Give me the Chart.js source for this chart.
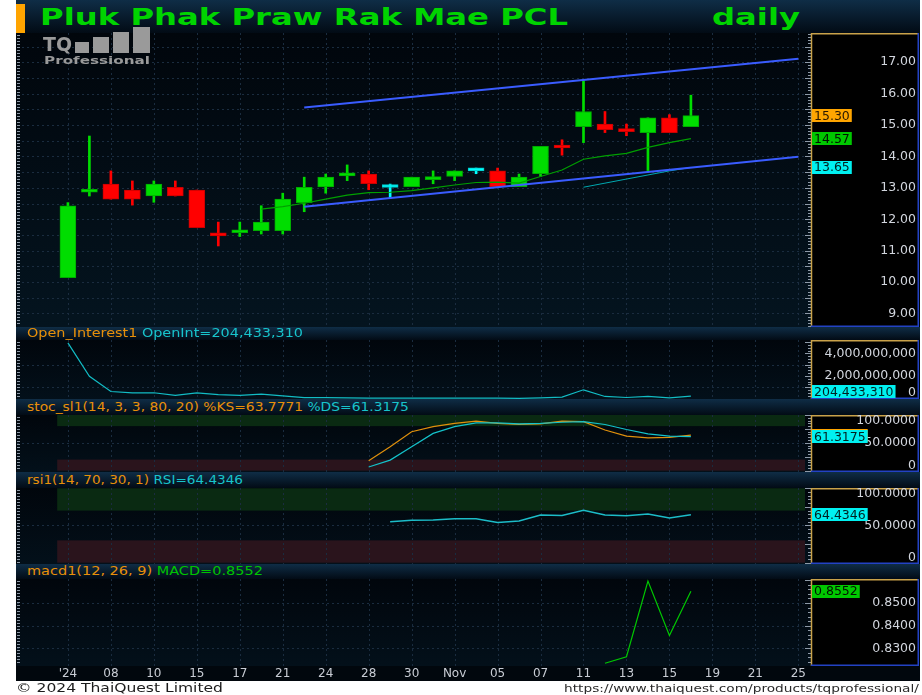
<!DOCTYPE html>
<html>
<head>
<meta charset="utf-8">
<script src="https://cdn.jsdelivr.net/npm/chart.js@4.4.0/dist/chart.umd.min.js"></script>
<style>
html, body { margin: 0; padding: 0; background: #fff; }
#wrap { position: relative; width: 922px; height: 695px; overflow: hidden; background: #fff; font-family: "DejaVu Sans", sans-serif; }
.dark { position: absolute; left: 16px; top: 0; width: 904px; height: 681px; background: #01070d; }
.bar { position: absolute; left: 16px; width: 904px; background: linear-gradient(#0f2d46, #020b15); }
.txt { position: absolute; white-space: nowrap; display: inline-block; transform-origin: left center; z-index: 5; }
.hdr { font-size: 11.5px; left: 27px; }
canvas { position: absolute; left: 0; }
.logo { position: absolute; background: #9a9a9a; z-index: 5; }
</style>
</head>
<body>
<div id="wrap">
  <div class="dark"></div>
  <div class="bar" style="top:0;height:33px;"></div>
  <div style="position:absolute;left:16px;top:4px;width:9px;height:29px;background:#ffa400;"></div>
  <div id="title" class="txt" style="left:40px;top:3px;font-size:23px;line-height:28px;font-weight:bold;color:#00d400;">Pluk Phak Praw Rak Mae PCL</div>
  <div id="daily" class="txt" style="left:712px;top:3px;font-size:23px;line-height:28px;font-weight:bold;color:#00d400;">daily</div>

  <canvas id="cPrice" width="922" height="294" style="top:33px;"></canvas>

  <div id="tq" class="txt" style="left:43px;top:33px;font-size:20px;line-height:22px;font-weight:bold;color:#9a9a9a;">TQ</div>
  <div class="logo" style="left:75px;top:42px;width:14px;height:11px;"></div>
  <div class="logo" style="left:93px;top:37px;width:16px;height:16px;"></div>
  <div class="logo" style="left:113px;top:32px;width:16px;height:21px;"></div>
  <div class="logo" style="left:133px;top:27px;width:17px;height:26px;"></div>
  <div id="prof" class="txt" style="left:44px;top:54px;font-size:11px;line-height:13px;font-weight:bold;color:#9a9a9a;">Professional</div>

  <div class="bar" style="top:327px;height:13px;"></div>
  <div id="hOI" class="txt hdr" style="top:327px;line-height:13px;"></div>
  <canvas id="cOI" width="922" height="59" style="top:340px;"></canvas>

  <div class="bar" style="top:399px;height:16px;"></div>
  <div id="hStoch" class="txt hdr" style="top:399px;line-height:16px;"></div>
  <canvas id="cStoch" width="922" height="57" style="top:415px;"></canvas>

  <div class="bar" style="top:472px;height:16px;"></div>
  <div id="hRsi" class="txt hdr" style="top:472px;line-height:16px;"></div>
  <canvas id="cRsi" width="922" height="76" style="top:488px;"></canvas>

  <div class="bar" style="top:564px;height:15px;"></div>
  <div id="hMacd" class="txt hdr" style="top:564px;line-height:15px;"></div>
  <canvas id="cMacd" width="922" height="102" style="top:579px;"></canvas>

  <div id="copy" class="txt" style="left:16px;top:681px;font-size:13px;line-height:14px;color:#1c1c1c;">© 2024 ThaiQuest Limited</div>
  <div id="url" class="txt" style="left:564px;top:682px;font-size:11px;line-height:13px;color:#2a2a2a;">https://www.thaiquest.com/products/tqprofessional/</div>
</div>

<script>
// Подписи оси X (каждая вторая свеча)
const xLabels = ["'24", '08', '10', '15', '17', '21', '24', '28', '30', 'Nov', '05', '07', '11', '13', '15', '19', '21', '25'];

// Свечи
const open  = [10.14, 12.86, 13.12, 12.93, 12.74, 13.02, 12.93, 11.50, 11.57, 11.64, 11.64, 12.53, 13.03, 13.38, 13.44, 13.01, 13.04, 13.26, 13.36, 13.54, 13.54, 13.04, 13.45, 14.31, 14.95, 15.03, 14.83, 14.76, 15.23, 14.95];
const high  = [12.53, 14.65, 13.54, 13.22, 13.22, 13.22, 12.93, 11.91, 11.91, 12.43, 12.83, 13.34, 13.44, 13.73, 13.54, 13.12, 13.34, 13.54, 13.54, 13.63, 13.63, 13.44, 14.32, 14.53, 16.41, 15.43, 15.03, 15.23, 15.33, 15.95];
const low   = [10.14, 12.74, 12.64, 12.45, 12.54, 12.74, 11.73, 11.15, 11.45, 11.53, 11.53, 12.24, 12.83, 13.23, 12.94, 12.67, 13.04, 13.13, 13.23, 13.45, 13.04, 13.04, 13.36, 14.04, 14.44, 14.76, 14.66, 13.55, 14.76, 14.95];
const close = [12.43, 12.90, 12.64, 12.64, 13.12, 12.74, 11.73, 11.47, 11.61, 11.91, 12.64, 13.02, 13.34, 13.42, 13.13, 13.01, 13.34, 13.30, 13.54, 13.54, 13.04, 13.34, 14.32, 14.27, 15.43, 14.85, 14.79, 15.23, 14.76, 15.30];

// Скользящие средние
const maFastStart = 9;
const maFast = [12.32, 12.40, 12.51, 12.64, 12.77, 12.85, 12.86, 12.91, 13.00, 13.09, 13.17, 13.18, 13.15, 13.36, 13.57, 13.91, 14.02, 14.10, 14.29, 14.44, 14.57];
const maSlowStart = 24;
const maSlow = [13.02, 13.15, 13.28, 13.41, 13.54, 13.65];

// Канал тренда: [индекс, цена]
const channelUpper = [[11, 15.56], [34, 17.11]];
const channelLower = [[11, 12.40], [34, 13.99]];

// Индикаторы
const openInt = [4930000000, 1970000000, 620000000, 500000000, 510000000, 270000000, 500000000, 350000000, 270000000, 380000000, 240000000, 70000000, 70000000, 60000000, 30000000, 30000000, 30000000, 30000000, 30000000, 30000000, 30000000, 20000000, 60000000, 120000000, 770000000, 180000000, 90000000, 190000000, 60000000, 204433310];
const stochStart = 14;
const stochK = [18, 43, 70, 79, 85, 89, 85, 83, 84, 89, 88, 73, 62, 59, 60, 63.7771];
const stochD = [6.6, 19, 43, 67, 79, 86, 86, 84, 85, 87, 88, 83, 74, 66, 62, 61.3175];
const rsiStart = 15;
const rsi = [55, 57, 57.5, 59, 59, 54, 56, 64, 63.5, 70.5, 64, 63, 65.5, 60, 64.4346];
const macdStart = 25;
const macd = [0.8234, 0.8263, 0.8597, 0.8357, 0.8552];

// Деления осей Y
const priceTicks = [9, 10, 11, 12, 13, 14, 15, 16, 17];
const oiTicks = [0, 2000000000, 4000000000];
const pctTicks = [0, 50, 100];
const macdTicks = [0.83, 0.84, 0.85];

const X_MIN = -2.37, X_MAX = 34.59;
const AXIS_END = 919;
const FONT = '"DejaVu Sans", sans-serif';

const fromStart = (arr, start) => arr.map((v, k) => ({ x: start + k, y: v }));
const lineSet = (data, color, width) => ({
    type: 'line', data, borderColor: color, borderWidth: width,
    pointRadius: 0, tension: 0, order: 0
});

// Оформление панели: фон, зоны, сетка, линейки, подписи, ярлыки
function panelDeco(cfg) {
    return {
        id: 'panelDeco',
        beforeDraw(chart) {
            const { ctx, chartArea: a, scales: { x, y } } = chart;
            ctx.save();
            const g = ctx.createLinearGradient(0, a.top, 0, a.bottom);
            g.addColorStop(0, cfg.bg[0]);
            g.addColorStop(1, cfg.bg[1]);
            ctx.fillStyle = g;
            ctx.fillRect(a.left, a.top, a.right - a.left, a.bottom - a.top);
            ctx.fillStyle = '#000';
            ctx.fillRect(a.right, a.top, AXIS_END - a.right, a.bottom - a.top);

            (cfg.zones || []).forEach(z => {
                const yTop = y.getPixelForValue(z[1]);
                const yBot = y.getPixelForValue(z[0]);
                const xl = x.getPixelForValue(-0.5);
                ctx.fillStyle = z[2];
                ctx.fillRect(xl, yTop, a.right - 6 - xl, yBot - yTop);
            });

            ctx.strokeStyle = '#1a2c3f';
            ctx.lineWidth = 1;
            ctx.setLineDash([2, 3]);
            ctx.beginPath();
            xLabels.forEach((_, i) => {
                const px = Math.round(x.getPixelForValue(i * 2)) + 0.5;
                ctx.moveTo(px, a.top);
                ctx.lineTo(px, a.bottom);
            });
            cfg.grid.forEach(v => {
                const py = Math.round(y.getPixelForValue(v)) + 0.5;
                ctx.moveTo(a.left, py);
                ctx.lineTo(a.right, py);
            });
            ctx.stroke();
            ctx.restore();
        },
        afterDraw(chart) {
            const { ctx, chartArea: a, scales: { y } } = chart;
            ctx.save();

            // линейки слева и справа
            ctx.strokeStyle = '#8e9aa8';
            ctx.lineWidth = 1;
            ctx.beginPath();
            for (let py = a.top + 2; py < a.bottom - 1; py += 3) {
                ctx.moveTo(a.left, py + 0.5);
                ctx.lineTo(a.left + 3, py + 0.5);
            }
            const lo = y.min, hi = y.max;
            for (let v = Math.ceil(lo / cfg.minor) * cfg.minor; v <= hi; v += cfg.minor) {
                const py = Math.round(y.getPixelForValue(v)) + 0.5;
                const major = Math.abs(v / cfg.major - Math.round(v / cfg.major)) < 1e-6;
                ctx.moveTo(a.right - (major ? 6 : 3), py);
                ctx.lineTo(a.right, py);
            }
            ctx.stroke();

            // рамка блока оси
            ctx.lineWidth = 1.5;
            ctx.strokeStyle = '#c9a24a';
            ctx.beginPath();
            ctx.moveTo(a.right + 0.5, a.bottom);
            ctx.lineTo(a.right + 0.5, a.top + 0.75);
            ctx.lineTo(AXIS_END, a.top + 0.75);
            ctx.stroke();
            ctx.strokeStyle = '#2342c4';
            ctx.beginPath();
            ctx.moveTo(AXIS_END - 0.75, a.top);
            ctx.lineTo(AXIS_END - 0.75, a.bottom - 0.75);
            ctx.lineTo(a.right, a.bottom - 0.75);
            ctx.stroke();

            // подписи делений
            ctx.font = '12.5px ' + FONT;
            ctx.fillStyle = '#d2d6de';
            ctx.textAlign = 'right';
            ctx.textBaseline = 'middle';
            cfg.ticks.forEach((v, k) => {
                let py = y.getPixelForValue(v);
                py = Math.min(Math.max(py, a.top + 6), a.bottom - 6);
                ctx.fillText(cfg.tickText[k], 916, py);
            });

            // ярлыки последних значений
            ctx.textAlign = 'left';
            cfg.tags.forEach(t => {
                const h = 13;
                const w = ctx.measureText(t.text).width + 4;
                let py = y.getPixelForValue(t.value);
                py = Math.min(Math.max(py, a.top + h / 2 + 1), a.bottom - h / 2 - 1);
                ctx.fillStyle = t.bg;
                ctx.fillRect(a.right + 1, Math.round(py - h / 2), w, h);
                ctx.fillStyle = t.fg;
                ctx.fillText(t.text, a.right + 3, Math.round(py) + 0.5);
            });
            ctx.restore();
        }
    };
}

function xScale(show) {
    return {
        type: 'linear', min: X_MIN, max: X_MAX, bounds: 'data', offset: false, display: show,
        grid: { display: false, drawTicks: false, offset: false }, border: { display: false },
        afterBuildTicks: s => { s.ticks = xLabels.map((t, i) => ({ value: i * 2 })); },
        afterFit: s => { s.height = show ? 15 : 0; },
        ticks: {
            autoSkip: false, maxRotation: 0, padding: 1, color: '#c8ccd4',
            font: { family: FONT, size: 12 },
            callback: v => xLabels[v / 2] || ''
        }
    };
}

function yScale(min, max) {
    return {
        type: 'linear', position: 'right', min, max, bounds: 'data',
        grid: { display: false, drawTicks: false }, border: { display: false },
        ticks: { display: false },
        afterFit: s => { s.width = 109; s.paddingTop = 0; s.paddingBottom = 0; }
    };
}

function makeChart(id, datasets, yMin, yMax, deco, showX) {
    return new Chart(document.getElementById(id), {
        type: 'line',
        data: { datasets },
        options: {
            responsive: false,
            animation: false,
            events: [],
            layout: { padding: { left: 17, right: 2, top: 0, bottom: 0 } },
            plugins: { legend: { display: false }, tooltip: { enabled: false } },
            scales: { x: xScale(showX), y: yScale(yMin, yMax) }
        },
        plugins: [panelDeco(deco)]
    });
}

// Цвета свечей
const UP = '#00dd00', DOWN = '#ff0000', FLAT = '#00ffff';
const candleColor = close.map((c, i) => c > open[i] ? UP : c < open[i] ? DOWN : FLAT);
const candleEdge = close.map((c, i) => c > open[i] ? '#00aa00' : c < open[i] ? '#c80000' : '#00c8c8');
const last = arr => arr[arr.length - 1];

// Цена
makeChart('cPrice', [
    lineSet(channelUpper.map(p => ({ x: p[0], y: p[1] })), '#3a5cff', 2),
    lineSet(channelLower.map(p => ({ x: p[0], y: p[1] })), '#3a5cff', 2),
    lineSet(fromStart(maFast, maFastStart), '#00a000', 1.2),
    lineSet(fromStart(maSlow, maSlowStart), '#00a8b0', 1),
    {
        type: 'bar', data: close.map((c, i) => ({ x: i, y: [open[i], c] })),
        backgroundColor: candleColor, borderColor: candleEdge, borderWidth: 1, borderSkipped: false,
        barThickness: 16, minBarLength: 3, grouped: false, order: 1
    },
    {
        type: 'bar', data: close.map((c, i) => ({ x: i, y: [low[i], high[i]] })),
        backgroundColor: candleColor, barThickness: 2, grouped: false, order: 2
    }
], 8.57, 17.93, {
    bg: ['#01060c', '#04141f'],
    grid: [9, 9.5, 10, 10.5, 11, 11.5, 12, 12.5, 13, 13.5, 14, 14.5, 15, 15.5, 16, 16.5, 17, 17.5],
    minor: 0.1, major: 0.5,
    ticks: priceTicks, tickText: priceTicks.map(v => v.toFixed(2)),
    tags: [
        { value: last(close), text: last(close).toFixed(2), bg: '#ffa500', fg: '#2a1800' },
        { value: last(maFast), text: last(maFast).toFixed(2), bg: '#00c800', fg: '#001400' },
        { value: last(maSlow), text: last(maSlow).toFixed(2), bg: '#00f0f0', fg: '#002020' }
    ]
}, false);

// Open Interest
makeChart('cOI', [
    lineSet(fromStart(openInt, 0), '#12bcc4', 1.2)
], -44000000, 5180000000, {
    bg: ['#01060c', '#03101a'],
    grid: [1000000000, 3000000000],
    minor: 250000000, major: 1000000000,
    ticks: oiTicks, tickText: oiTicks.map(v => v.toLocaleString('en-US')),
    tags: [{ value: last(openInt), text: last(openInt).toLocaleString('en-US'), bg: '#00f0f0', fg: '#002020' }]
}, false);

// Стохастик
makeChart('cStoch', [
    lineSet(fromStart(stochD, stochStart), '#14c2ca', 1.2),
    Object.assign(lineSet(fromStart(stochK, stochStart), '#e0900c', 1.2), { order: 1 })
], -2.33, 100, {
    bg: ['#01060c', '#03101a'],
    zones: [[80, 100, '#0a2a12'], [0, 20, '#2a141c']],
    grid: [50],
    minor: 5, major: 25,
    ticks: pctTicks, tickText: pctTicks.map(v => v === 0 ? '0' : v.toFixed(4)),
    tags: [
        { value: last(stochK), text: last(stochK).toFixed(4), bg: '#ffa500', fg: '#2a1800' },
        { value: last(stochD), text: last(stochD).toFixed(4), bg: '#00f0f0', fg: '#002020' }
    ]
}, false);

// RSI
makeChart('cRsi', [
    lineSet(fromStart(rsi, rsiStart), '#1cbcc8', 1.5)
], -1.75, 100.4, {
    bg: ['#01060c', '#03101a'],
    zones: [[70, 100, '#0a2a12'], [0, 30, '#2a141c']],
    grid: [50],
    minor: 5, major: 25,
    ticks: pctTicks, tickText: pctTicks.map(v => v === 0 ? '0' : v.toFixed(4)),
    tags: [{ value: last(rsi), text: last(rsi).toFixed(4), bg: '#00f0f0', fg: '#002020' }]
}, false);

// MACD
makeChart('cMacd', [
    lineSet(fromStart(macd, macdStart), '#00c800', 1.2)
], 0.8222, 0.8606, {
    bg: ['#01060c', '#03101a'],
    grid: macdTicks,
    minor: 0.002, major: 0.01,
    ticks: macdTicks, tickText: macdTicks.map(v => v.toFixed(4)),
    tags: [{ value: last(macd), text: last(macd).toFixed(4), bg: '#00c800', fg: '#001400' }]
}, true);

// Заголовки панелей
const span = (t, c) => '<span style="color:' + c + '">' + t + '</span>';
const ORANGE = '#e8900a', CYAN = '#18c4cc', GREEN = '#00c400';
document.getElementById('hOI').innerHTML = span('Open_Interest1', ORANGE) + ' ' + span('OpenInt=' + last(openInt).toLocaleString('en-US'), CYAN);
document.getElementById('hStoch').innerHTML = span('stoc_sl1(14, 3, 3, 80, 20) %KS=' + last(stochK).toFixed(4), ORANGE) + ' ' + span('%DS=' + last(stochD).toFixed(4), CYAN);
document.getElementById('hRsi').innerHTML = span('rsi1(14, 70, 30, 1)', ORANGE) + ' ' + span('RSI=' + last(rsi).toFixed(4), CYAN);
document.getElementById('hMacd').innerHTML = span('macd1(12, 26, 9)', ORANGE) + ' ' + span('MACD=' + last(macd).toFixed(4), GREEN);

// Растягиваем тексты по ширине, как в оригинале
function stretch(id, w) {
    const el = document.getElementById(id);
    const r = el.getBoundingClientRect().width;
    if (r > 0) el.style.transform = 'scaleX(' + (w / r).toFixed(3) + ')';
}
stretch('title', 528);
stretch('daily', 88);
stretch('tq', 29);
stretch('prof', 106);
stretch('hOI', 276);
stretch('hStoch', 382);
stretch('hRsi', 216);
stretch('hMacd', 236);
stretch('copy', 207);
stretch('url', 355);
</script>
</body>
</html>
